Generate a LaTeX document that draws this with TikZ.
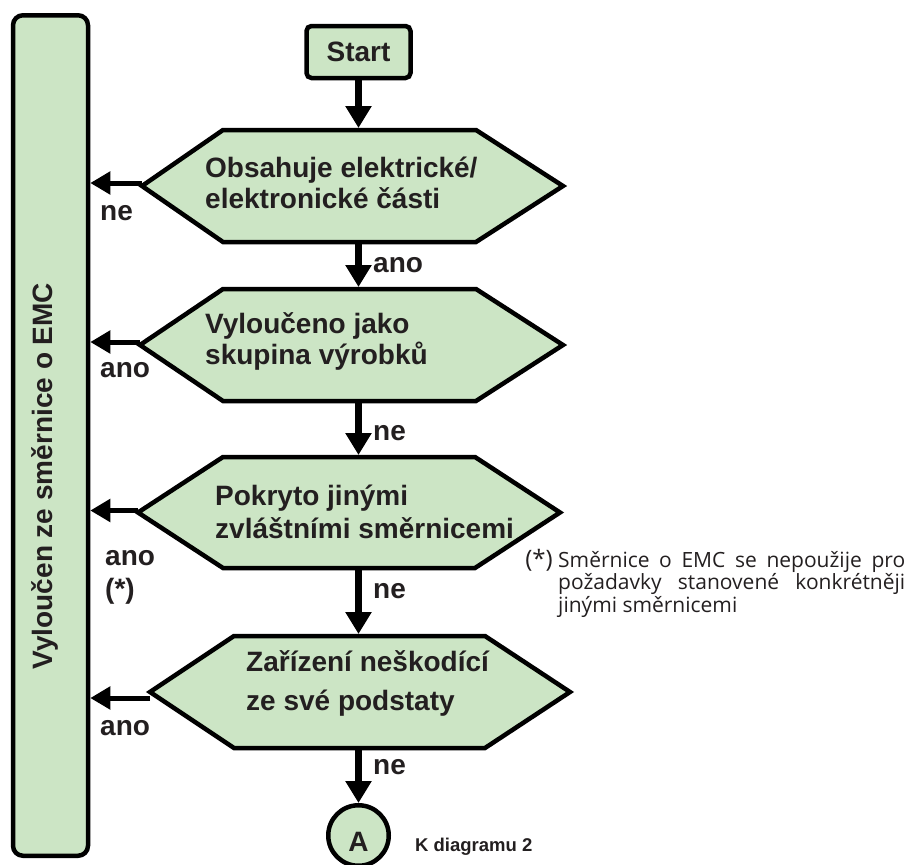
\documentclass[tikz,border=0pt]{standalone}
\usepackage{fontspec}
\setmainfont{Liberation Sans}
\newfontfamily\notefont{Open Sans}
\usetikzlibrary{arrows.meta}

\definecolor{boxfill}{RGB}{204,229,197}
\definecolor{ink}{RGB}{35,31,32}

\tikzset{
  box/.style={draw=black, line width=4.5pt, fill=boxfill, inner sep=0pt},
  hexline/.style={draw=black, line width=4.5pt, fill=boxfill, line join=miter},
  bigtext/.style={font=\fontsize{28}{31}\selectfont\bfseries, text=ink, inner sep=0pt},
  lbl/.style={bigtext, anchor=base west},
  flow/.style={line width=6.5pt, -{Triangle[width=25pt,length=22pt]}, shorten >=2pt},
  exitarrow/.style={line width=5pt, -{Triangle[width=22pt,length=20pt]}},
  note/.style={inner sep=0pt, text=ink, font=\notefont\fontsize{21}{22.5}\selectfont},
}

% decision hexagon: name, left tip, left corner, right corner, right tip, top, bottom
\newcommand\hexstep[7]{%
  \path[hexline] (#2,{(#6+#7)/2}) -- (#3,#6) -- (#4,#6) -- (#5,{(#6+#7)/2})
    -- (#4,#7) -- (#3,#7) -- cycle;
  \coordinate (#1-w) at (#2,{(#6+#7)/2});
  \coordinate (#1-n) at (358.5,#6);
  \coordinate (#1-s) at (358.5,#7);
}

\begin{document}
\begin{tikzpicture}[x=1pt,y=-1pt]
\useasboundingbox (0,0) rectangle (911,865);

% excluded-from-directive bar
\node[box, rounded corners=10pt, minimum width=75pt, minimum height=840.5pt] (bar) at (50.5,435.5) {};
\node[bigtext, rotate=90, anchor=base] (bartext) at (52,476) {Vyloučen ze směrnice o EMC};

% start
\node[box, bigtext, rounded corners=5pt, minimum width=104pt, minimum height=52pt] (start) at (358.5,52) {Start};

% decisions
\hexstep{h1}{142}{223}{476}{563}{130}{242}
\hexstep{h2}{140}{223}{476}{563}{289}{401}
\hexstep{h3}{138}{223}{475}{560}{457}{568}
\hexstep{h4}{150}{234}{485}{570}{636}{748}

\node[lbl] (t1) at (205,177) {\fontsize{28}{31}\selectfont\begin{tabular}[t]{@{}l@{}}Obsahuje elektrické/\\elektronické části\end{tabular}};
\node[lbl] (t2) at (205,333) {\fontsize{28}{30}\selectfont\begin{tabular}[t]{@{}l@{}}Vyloučeno jako\\skupina výrobků\end{tabular}};
\node[lbl] (t3) at (215,505) {\fontsize{28}{33}\selectfont\begin{tabular}[t]{@{}l@{}}Pokryto jinými\\zvláštními směrnicemi\end{tabular}};
\node[lbl] (t4) at (246,671) {\fontsize{28}{39}\selectfont\begin{tabular}[t]{@{}l@{}}Zařízení neškodící\\ze své podstaty\end{tabular}};

% connector to the next diagram
\node[box, bigtext, circle, minimum size=60.5pt, text height=32pt, text depth=0pt] (conn) at (358.5,835.5) {A};
\node[lbl, font=\fontsize{18.5}{22}\selectfont\bfseries] (next) at (415,851) {K diagramu 2};

% main flow
\draw[flow] (start) -- (h1-n);
\draw[flow] (h1-s) -- (h2-n);
\draw[flow] (h2-s) -- (h3-n);
\draw[flow] (h3-s) -- (h4-n);
\draw[flow, shorten >=0pt] (h4-s) -- (conn);

\node[lbl] (a12) at (373,272) {ano};
\node[lbl] (n23) at (373,440) {ne};
\node[lbl] (n34) at (373,598) {ne};
\node[lbl] (n4a) at (373,774) {ne};

% exits to the bar
\coordinate (h1-out) at ([yshift=3pt]h1-w);
\coordinate (h2-out) at ([yshift=3pt]h2-w);
\coordinate (h3-out) at ([yshift=2pt]h3-w);
\coordinate (h4-out) at ([yshift=-6pt]h4-w);
\draw[exitarrow] (h1-out) -- (bar.east |- h1-out);
\draw[exitarrow] (h2-out) -- (bar.east |- h2-out);
\draw[exitarrow] (h3-out) -- (bar.east |- h3-out);
\draw[exitarrow] (h4-out) -- (bar.east |- h4-out);

\node[lbl] (x1) at (100,220) {ne};
\node[lbl] (x2) at (100,377) {ano};
\node[lbl] (x3) at (105,565) {\fontsize{28}{33}\selectfont\begin{tabular}[t]{@{}l@{}}ano\\(*)\end{tabular}};
\node[lbl] (x4) at (100,735) {ano};

% footnote
\node[note, anchor=base east, font=\notefont\fontsize{24}{24}\selectfont] (star) at (553,567) {(*)};
\node[note, anchor=base west] (fn) at (558,567)
  {\begin{tabular}[t]{@{}l@{}}\makebox[347pt][s]{Směrnice o EMC se nepoužije pro}\\
   \makebox[347pt][s]{požadavky stanovené konkrétněji}\\
   jinými směrnicemi\end{tabular}};
\end{tikzpicture}
\end{document}
